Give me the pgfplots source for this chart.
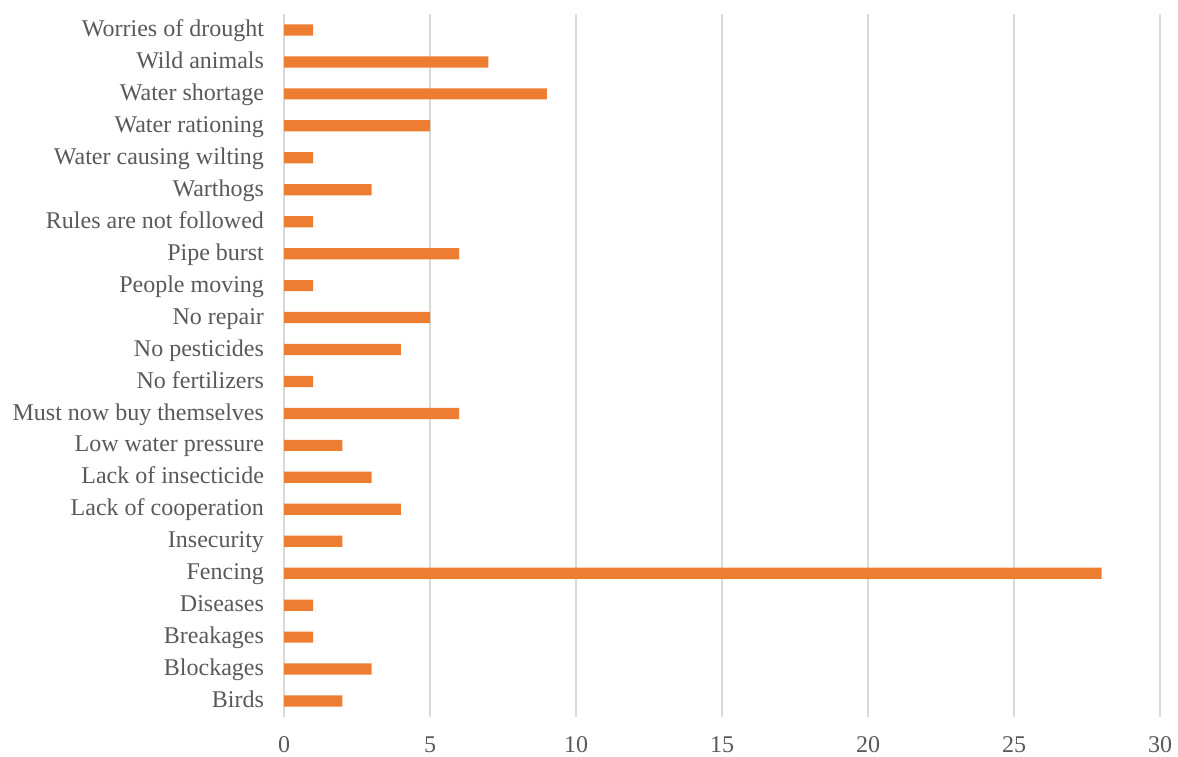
\documentclass[border=0pt]{standalone}
\usepackage{pgfplots}
\pgfplotsset{compat=1.18}
\usepackage{fontspec}
\setmainfont{Liberation Serif}
\definecolor{barc}{HTML}{ED7D31}
\definecolor{txt}{HTML}{595959}
\definecolor{gridc}{HTML}{D9D9D9}
\begin{document}
\begin{tikzpicture}[x=1pt,y=1pt]
\useasboundingbox (0,0) rectangle (589,378);
\begin{axis}[
  at={(142pt,19.5pt)}, anchor=south west,
  width=438pt, height=351.5pt, scale only axis,
  xmin=0, xmax=30, ymin=-0.5, ymax=21.5,
  xbar, bar width=5.6pt,
  xtick={0,5,...,30}, ytick={0,...,21},
  /pgf/number format/assume math mode=true,
  yticklabels={Birds,Blockages,Breakages,Diseases,Fencing,Insecurity,Lack of cooperation,Lack of insecticide ,Low water pressure,Must now buy themselves,No fertilizers,No pesticides,No repair,People moving,Pipe burst,Rules are not followed ,Warthogs,Water causing wilting,Water rationing,Water shortage,Wild animals,Worries of drought},
  xmajorgrids, grid style={gridc, line width=1pt},
  axis line style={draw=none},
  major tick length=0pt,
  tick label style={font=\fontsize{12}{14}\selectfont, text=txt},
  yticklabel style={xshift=-6.5pt, text height=8.2pt, text depth=2.6pt, yshift=-0.5pt},
  xticklabel style={yshift=-6pt, text height=8.2pt},
]
\addplot[draw=none, fill=barc] coordinates {
(2,0) (3,1) (1,2) (1,3) (28,4) (2,5) (4,6) (3,7) (2,8) (6,9) (1,10)
(4,11) (5,12) (1,13) (6,14) (1,15) (3,16) (1,17) (5,18) (9,19) (7,20) (1,21)};
\end{axis}
\end{tikzpicture}
\end{document}
